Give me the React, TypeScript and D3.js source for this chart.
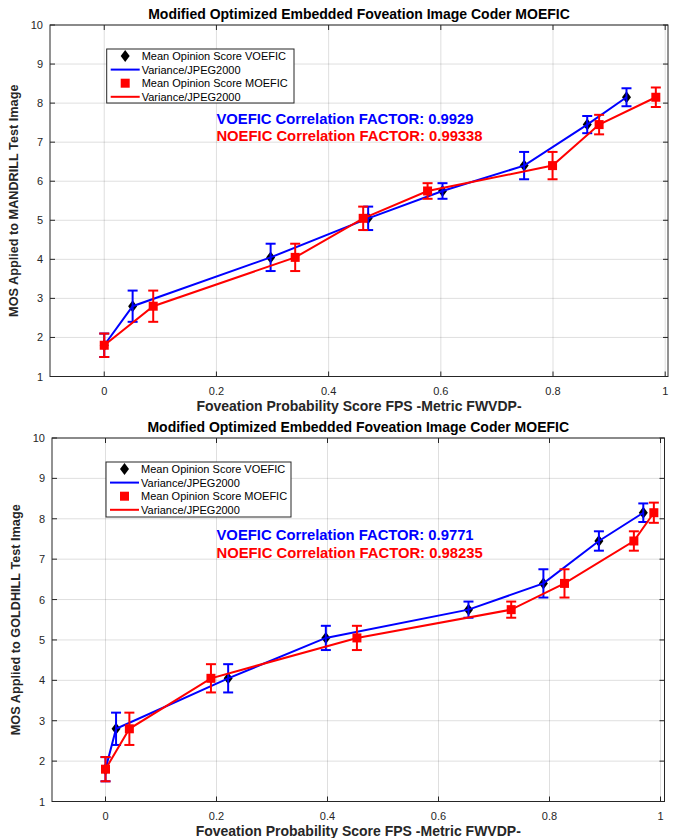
import React from "react";
import * as d3 from "d3";

// ---------- data ----------
const X_TICKS = [0, 0.2, 0.4, 0.6, 0.8, 1];
const X_TICK_LABELS = ["0", "0.2", "0.4", "0.6", "0.8", "1"];
const Y_TICKS = [1, 2, 3, 4, 5, 6, 7, 8, 9, 10];
const Y_TICK_LABELS = ["1", "2", "3", "4", "5", "6", "7", "8", "9", "10"];

const MOS = [1.8, 2.8, 4.05, 5.05, 5.75, 6.4, 7.45, 8.15];

// Top panel (MANDRILL)
const MANDRILL_V_X = [0, 0.0506, 0.2966, 0.4705, 0.603, 0.7485, 0.861, 0.931];
const MANDRILL_V_ERR = [0.3, 0.4, 0.35, 0.3, 0.2, 0.35, 0.22, 0.23];
const MANDRILL_M_X = [0, 0.0873, 0.3404, 0.4616, 0.5764, 0.7992, 0.8822, 0.9833];
const MANDRILL_M_ERR = [0.3, 0.4, 0.35, 0.3, 0.2, 0.35, 0.25, 0.25];

// Bottom panel (GOLDHILL)
const GOLDHILL_V_X = [0, 0.019, 0.221, 0.397, 0.654, 0.789, 0.889, 0.969];
const GOLDHILL_V_ERR = [0.3, 0.4, 0.35, 0.3, 0.2, 0.35, 0.24, 0.23];
const GOLDHILL_M_X = [0, 0.043, 0.19, 0.453, 0.731, 0.827, 0.952, 0.988];
const GOLDHILL_M_ERR = [0.3, 0.4, 0.35, 0.3, 0.2, 0.35, 0.24, 0.25];

const TITLE = "Modified Optimized Embedded Foveation Image Coder MOEFIC";
const XLABEL = "Foveation Probability Score FPS -Metric FWVDP-";
const LEGEND_LABELS = [
  "Mean Opinion Score VOEFIC",
  "Variance/JPEG2000",
  "Mean Opinion Score MOEFIC",
  "Variance/JPEG2000",
];

const FONT = "'Liberation Sans', Arial, Helvetica, sans-serif";
const AX = "#262626";
const BLUE = "#0000ff";
const RED = "#ff0000";

type PanelProps = {
  left: number;
  right: number;
  top: number;
  bottom: number;
  xDomain: [number, number];
  ylabel: string;
  vx: number[];
  vErr: number[];
  mx: number[];
  mErr: number[];
  corrV: string;
  corrM: string;
  legendBox: { x: number; y: number; w: number; h: number };
  ylabelX: number;
};

function Panel(p: PanelProps) {
  const x = d3.scaleLinear().domain(p.xDomain).range([p.left, p.right]);
  const y = d3.scaleLinear().domain([1, 10]).range([p.bottom, p.top]);
  const line = d3
    .line<[number, number]>()
    .x((d) => x(d[0]))
    .y((d) => y(d[1]));
  const vPts: [number, number][] = p.vx.map((v, i) => [v, MOS[i]]);
  const mPts: [number, number][] = p.mx.map((v, i) => [v, MOS[i]]);
  const tick = 5;
  const cap = 5;
  const cx = (p.left + p.right) / 2;
  const cy = (p.top + p.bottom) / 2;

  const errBars = (pts: [number, number][], errs: number[], color: string) =>
    pts.map((d, i) => {
      const px = x(d[0]);
      const y1 = y(d[1] + errs[i]);
      const y2 = y(d[1] - errs[i]);
      return (
        <g key={i} stroke={color} strokeWidth={2}>
          <line x1={px} x2={px} y1={y1} y2={y2} />
          <line x1={px - cap} x2={px + cap} y1={y1} y2={y1} />
          <line x1={px - cap} x2={px + cap} y1={y2} y2={y2} />
        </g>
      );
    });

  const diamond = (px: number, py: number, k: number | string) => (
    <path
      key={k}
      d={`M${px},${py - 6} L${px + 4.5},${py} L${px},${py + 6} L${px - 4.5},${py} Z`}
      fill="#000"
    />
  );
  const square = (px: number, py: number, k: number | string) => (
    <rect key={k} x={px - 4.5} y={py - 4.5} width={9} height={9} fill={RED} />
  );

  const lb = p.legendBox;
  const rowH = 13.6;
  const rowY = (i: number) => lb.y + 7 + i * rowH;
  const sampleX1 = lb.x + 4;
  const sampleX2 = lb.x + 33;
  const textX = lb.x + 35;

  return (
    <g fontFamily={FONT}>
      <rect x={p.left} y={p.top} width={p.right - p.left} height={p.bottom - p.top} fill="#fff" />
      {/* grid */}
      <g stroke={AX} strokeOpacity={0.15} strokeWidth={1}>
        {X_TICKS.map((t) => (
          <line key={"gx" + t} x1={x(t)} x2={x(t)} y1={p.top} y2={p.bottom} />
        ))}
        {Y_TICKS.map((t) => (
          <line key={"gy" + t} x1={p.left} x2={p.right} y1={y(t)} y2={y(t)} />
        ))}
      </g>
      {/* data */}
      {vPts.map((d, i) => diamond(x(d[0]), y(d[1]), "dm" + i))}
      <path d={line(vPts) || ""} fill="none" stroke={BLUE} strokeWidth={2} />
      {errBars(vPts, p.vErr, BLUE)}
      {mPts.map((d, i) => square(x(d[0]), y(d[1]), "sq" + i))}
      <path d={line(mPts) || ""} fill="none" stroke={RED} strokeWidth={2} />
      {errBars(mPts, p.mErr, RED)}
      {/* axes box + ticks */}
      <rect
        x={p.left}
        y={p.top}
        width={p.right - p.left}
        height={p.bottom - p.top}
        fill="none"
        stroke={AX}
        strokeWidth={1}
      />
      <g stroke={AX} strokeWidth={1}>
        {X_TICKS.map((t) => (
          <g key={"tx" + t}>
            <line x1={x(t)} x2={x(t)} y1={p.bottom} y2={p.bottom - tick} />
            <line x1={x(t)} x2={x(t)} y1={p.top} y2={p.top + tick} />
          </g>
        ))}
        {Y_TICKS.map((t) => (
          <g key={"ty" + t}>
            <line x1={p.left} x2={p.left + tick} y1={y(t)} y2={y(t)} />
            <line x1={p.right} x2={p.right - tick} y1={y(t)} y2={y(t)} />
          </g>
        ))}
      </g>
      {/* tick labels */}
      <g fill={AX} fontSize={11}>
        {X_TICKS.map((t, i) => (
          <text key={"lx" + t} x={x(t)} y={p.bottom + 18.5} textAnchor="middle">
            {X_TICK_LABELS[i]}
          </text>
        ))}
        {Y_TICKS.map((t, i) => (
          <text key={"ly" + t} x={p.left - 7} y={y(t) + 4} textAnchor="end">
            {Y_TICK_LABELS[i]}
          </text>
        ))}
      </g>
      {/* labels */}
      <text x={cx} y={p.top - 6.5} textAnchor="middle" fontWeight="bold" fontSize={14} fill="#000">
        {TITLE}
      </text>
      <text x={cx} y={p.bottom + 34.5} textAnchor="middle" fontWeight="bold" fontSize={14} fill={AX}>
        {XLABEL}
      </text>
      <text
        transform={`translate(${p.ylabelX},${cy}) rotate(-90)`}
        textAnchor="middle"
        fontWeight="bold"
        fontSize={12.7}
        fill={AX}
      >
        {p.ylabel}
      </text>
      {/* correlation annotations */}
      <text x={x(0.2)} y={y(7.6)} dy="0.35em" fontWeight="bold" fontSize={14.8} fill={BLUE}>
        {p.corrV}
      </text>
      <text x={x(0.2)} y={y(7.15)} dy="0.35em" fontWeight="bold" fontSize={14.8} fill={RED}>
        {p.corrM}
      </text>
      {/* legend */}
      <rect x={lb.x} y={lb.y} width={lb.w} height={lb.h} fill="#fff" stroke={AX} strokeWidth={1} />
      {diamond((sampleX1 + sampleX2) / 2, rowY(0), "lg0")}
      <line x1={sampleX1} x2={sampleX2} y1={rowY(1)} y2={rowY(1)} stroke={BLUE} strokeWidth={2} />
      {square((sampleX1 + sampleX2) / 2, rowY(2), "lg2")}
      <line x1={sampleX1} x2={sampleX2} y1={rowY(3)} y2={rowY(3)} stroke={RED} strokeWidth={2} />
      <g fontSize={11} fill="#000">
        {LEGEND_LABELS.map((s, i) => (
          <text key={"lt" + i} x={textX} y={rowY(i) + 4}>
            {s}
          </text>
        ))}
      </g>
    </g>
  );
}

export default function App() {
  return (
    <svg
      width={679}
      height={838}
      style={{ display: "block", background: "#fff", margin: "-8px 0 0 -8px" }}
    >
      <g transform="translate(8,8)">
        <Panel
          left={42}
          right={660}
          top={17}
          bottom={368.5}
          xDomain={[-0.0967, 1.005]}
          ylabel="MOS Applied to MANDRILL Test Image"
          vx={MANDRILL_V_X}
          vErr={MANDRILL_V_ERR}
          mx={MANDRILL_M_X}
          mErr={MANDRILL_M_ERR}
          corrV="VOEFIC Correlation FACTOR: 0.9929"
          corrM="NOEFIC Correlation FACTOR: 0.99338"
          legendBox={{ x: 98.7, y: 41, w: 187.3, h: 54 }}
          ylabelX={10}
        />
        <Panel
          left={44}
          right={656.5}
          top={430}
          bottom={793.5}
          xDomain={[-0.0964, 1.0072]}
          ylabel="MOS Applied to GOLDHILL Test Image"
          vx={GOLDHILL_V_X}
          vErr={GOLDHILL_V_ERR}
          mx={GOLDHILL_M_X}
          mErr={GOLDHILL_M_ERR}
          corrV="VOEFIC Correlation FACTOR: 0.9771"
          corrM="NOEFIC Correlation FACTOR: 0.98235"
          legendBox={{ x: 98, y: 454, w: 185, h: 55 }}
          ylabelX={12}
        />
      </g>
    </svg>
  );
}
